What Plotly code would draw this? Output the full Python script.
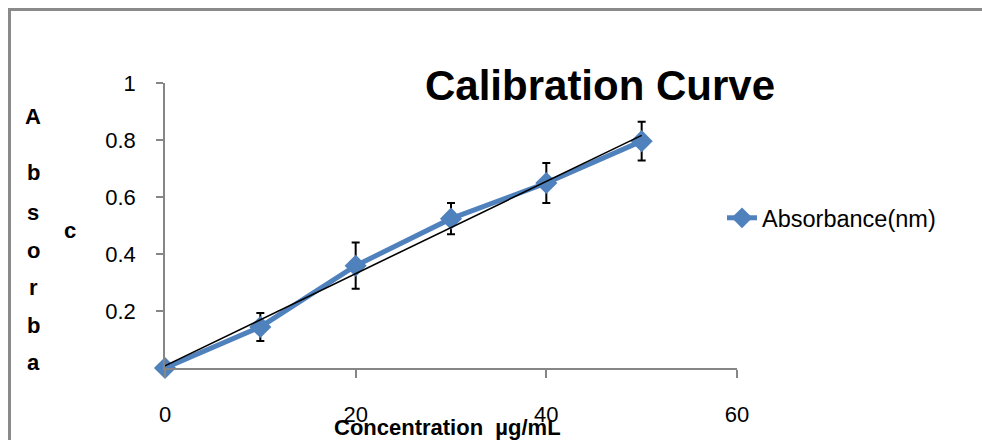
import numpy as np
import plotly.graph_objects as go

# ---- data ----
concentration = [0, 10, 20, 30, 40, 50]
absorbance = [0.0, 0.144, 0.359, 0.524, 0.649, 0.796]
abs_error = [0.0, 0.049, 0.081, 0.055, 0.070, 0.068]
x_ticks = [0, 20, 40, 60]
y_ticks = [0.2, 0.4, 0.6, 0.8, 1.0]
y_tick_labels = ["0.2", "0.4", "0.6", "0.8", "1"]
series_name = "Absorbance(nm)"
title_text = "Calibration Curve"
x_title = "Concentration  µg/mL"
y_title_col1 = ["A", "b", "s", "o", "r", "b", "a"]
y_title_col2 = ["c"]

# ---- layout geometry (pixels) ----
W, H = 982, 440
ML, MR, MT, MB = 165, 245, 83, 72
PW, PH = W - ML - MR, H - MT - MB


def px(x):
    return (x - ML) / PW


def py(y):
    return (H - MB - y) / PH


BLUE = "#4F81BD"
AXIS = "#868686"
FONT = "Liberation Sans"

slope, intercept = np.polyfit(concentration, absorbance, 1)
trend_x = [min(concentration), max(concentration)]
trend_y = [slope * v + intercept for v in trend_x]

fig = go.Figure()

# error bars (behind markers)
fig.add_trace(go.Scatter(
    x=concentration, y=absorbance, mode="markers",
    marker=dict(size=1, opacity=0),
    error_y=dict(type="data", array=abs_error, visible=True,
                 color="black", thickness=2, width=4),
    showlegend=False, hoverinfo="skip", cliponaxis=False,
))

fig.add_trace(go.Scatter(
    x=concentration, y=absorbance, mode="lines+markers", name=series_name,
    line=dict(color=BLUE, width=5),
    marker=dict(symbol="diamond", size=17, color=BLUE, line=dict(width=0)),
    cliponaxis=False,
))

fig.add_trace(go.Scatter(
    x=trend_x, y=trend_y, mode="lines",
    line=dict(color="black", width=1.6),
    showlegend=False, hoverinfo="skip", cliponaxis=False,
))

annotations = [
    dict(text=f"<b>{title_text}</b>", x=px(600), y=py(85), xref="paper", yref="paper",
         showarrow=False, xanchor="center", yanchor="middle",
         font=dict(family=FONT, size=42, color="black")),
    dict(text=f"<b>{x_title}</b>", x=px(447), y=py(427), xref="paper", yref="paper",
         showarrow=False, xanchor="center", yanchor="middle",
         font=dict(family=FONT, size=22, color="black")),
]
col1_y = [116, 172, 212, 250, 287, 325, 362]
for letter, yy in zip(y_title_col1, col1_y):
    annotations.append(dict(text=f"<b>{letter}</b>", x=px(33), y=py(yy), xref="paper", yref="paper",
                            showarrow=False, xanchor="center", yanchor="middle",
                            font=dict(family=FONT, size=22, color="black")))
for letter in y_title_col2:
    annotations.append(dict(text=f"<b>{letter}</b>", x=px(70), y=py(230), xref="paper", yref="paper",
                            showarrow=False, xanchor="center", yanchor="middle",
                            font=dict(family=FONT, size=22, color="black")))

shapes = [
    dict(type="line", xref="paper", yref="paper", x0=px(9.5), x1=px(9.5), y0=py(9.5), y1=py(H + 5),
         line=dict(color="#8a8a8a", width=3)),
    dict(type="line", xref="paper", yref="paper", x0=px(8), x1=px(W + 5), y0=py(9.5), y1=py(9.5),
         line=dict(color="#8a8a8a", width=3)),
]

fig.update_layout(
    width=W, height=H,
    margin=dict(l=ML, r=MR, t=MT, b=MB),
    paper_bgcolor="white", plot_bgcolor="white",
    font=dict(family=FONT, size=22, color="black"),
    showlegend=True,
    legend=dict(x=px(722), y=py(218), xanchor="left", yanchor="middle",
                bgcolor="rgba(0,0,0,0)", font=dict(family=FONT, size=23.5, color="black")),
    annotations=annotations,
    shapes=shapes,
    xaxis=dict(range=[0, 60], tickvals=x_ticks, ticktext=[str(v) for v in x_ticks],
               showgrid=False, zeroline=False, showline=True, linecolor=AXIS, linewidth=1.5,
               ticks="outside", ticklen=8, tickcolor=AXIS, tickwidth=1.5,
               ticklabelstandoff=18, tickfont=dict(size=22)),
    yaxis=dict(range=[0, 1], tickvals=y_ticks, ticktext=y_tick_labels,
               showgrid=False, zeroline=False, showline=True, linecolor=AXIS, linewidth=1.5,
               ticks="outside", ticklen=7, tickcolor=AXIS, tickwidth=1.5,
               ticklabelstandoff=16, tickfont=dict(size=22)),
)

fig.write_html("out.html")
